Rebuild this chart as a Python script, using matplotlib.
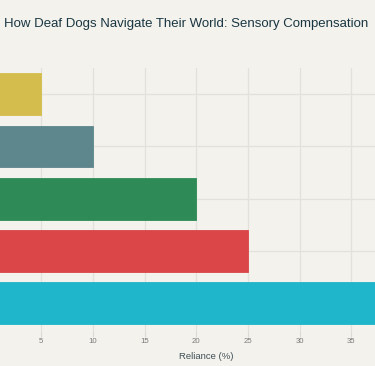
import matplotlib
matplotlib.use("Agg")
import matplotlib.pyplot as plt

categories = ["Vision", "Smell", "Touch / Vibration", "Air Currents", "Other Cues"]
reliance = [40, 25, 20, 10, 5]
colors = ["#1fb5ca", "#db4648", "#2e8b57", "#5d878d", "#d4bd4c"]
xticks = [5, 10, 15, 20, 25, 30, 35]

W, H = 375, 366
fig = plt.figure(figsize=(W / 100, H / 100), dpi=100)
bg = "#f3f2ed"
fig.patch.set_facecolor(bg)

# plot area extends beyond the figure on both sides (category labels fall outside)
x0_px = -10.3
px_per_unit = 10.33
xmax = 42
top_px, bot_px = 68, 329.5
ax = fig.add_axes([x0_px / W, 1 - bot_px / H, xmax * px_per_unit / W, (bot_px - top_px) / H])
ax.set_facecolor(bg)

ax.barh(categories, reliance, height=0.8, color=colors, edgecolor=colors,
        linewidth=0.6, zorder=3)
ax.set_ylim(-0.5, len(categories) - 0.5)
ax.set_xlim(0, xmax)
ax.set_xticks(xticks)
ax.set_xticklabels([str(t) for t in xticks], fontsize=5.6, color="#7a7a7a",
                   family="Liberation Sans")
ax.tick_params(axis="x", length=5, width=0.8, color="#dcdad4", pad=1.0)
ax.tick_params(axis="y", length=0, labelleft=False)
ax.grid(True, color="#e3e1db", linewidth=0.9, zorder=0)
for s in ax.spines.values():
    s.set_visible(False)

ax.set_xlabel("Reliance (%)", fontsize=6.8, color="#3f4f55", family="Liberation Sans",
              labelpad=5.5)

fig.text(4 / W, 1 - 23.5 / H, "How Deaf Dogs Navigate Their World: Sensory Compensation",
         fontsize=9.5, color="#1a3642", family="Liberation Sans", ha="left", va="center")

fig.savefig("out.png", dpi=100, facecolor=bg)
